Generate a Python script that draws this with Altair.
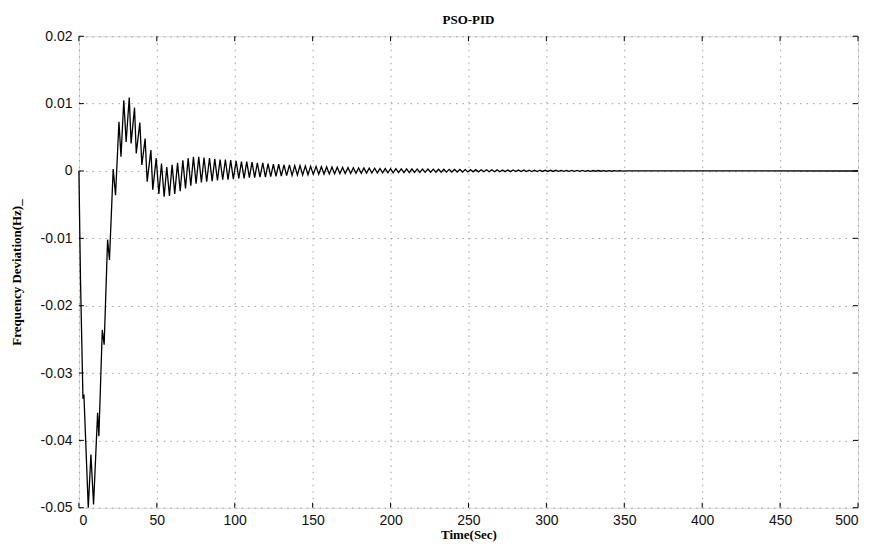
import altair as alt
import pandas as pd

# ---- data ----
early_t = [0.0, 1.0, 2.6, 3.2, 6.0, 7.7, 9.4, 12.0, 12.8, 15.0, 16.2, 18.4, 19.6,
           22.0, 23.5, 25.7, 27.0, 28.8, 30.3, 32.3, 33.5, 35.7, 36.8, 39.1, 40.4,
           42.5, 43.8, 46.2, 47.4, 49.6, 51.3, 53.0, 54.7]
early_v = [0.0, -0.016, -0.0338, -0.0332, -0.0500, -0.0421, -0.0495, -0.0359, -0.0394,
           -0.0236, -0.0258, -0.0102, -0.0132, 0.0003, -0.0036, 0.0073, 0.0021, 0.0105,
           0.0043, 0.0109, 0.0041, 0.0094, 0.0026, 0.0072, 0.0009, 0.0048, -0.0016,
           0.0031, -0.0028, 0.0019, -0.0034, 0.0011, -0.0038]

peak_t = [56.4, 59.8, 63.3, 66.7, 70.1, 73.5, 76.9, 80.3, 83.8, 87.2, 90.6, 94.0, 97.4,
          100.9, 104.3, 107.7, 111.1, 114.5, 118.0, 121.4, 124.8, 128.2, 131.6, 135.1,
          138.5, 141.9, 145.3, 148.7, 152.2, 155.6, 159.0, 162.4, 165.8, 169.2, 172.7,
          176.1, 179.5, 182.9, 186.3, 189.8, 193.2, 196.6, 200.0, 203.4, 206.9, 210.3,
          213.7, 217.1, 220.5, 224.0, 227.4, 230.8, 234.2, 237.6, 241.1, 244.5, 247.9,
          251.3, 254.7, 258.2, 261.6, 265.0, 268.4, 271.8, 275.3, 278.7, 282.1, 285.5,
          288.9, 292.4, 295.8, 299.2, 302.6, 306.0, 309.5, 312.9, 316.3, 319.7, 323.1,
          326.6, 330.0, 333.4, 336.8, 340.2, 343.7, 347.1]
peak_v = [0.0006, 0.0009, 0.0012, 0.0016, 0.0019, 0.0021, 0.0021, 0.0020, 0.0019, 0.0018,
          0.0017, 0.0017, 0.0016, 0.0015, 0.0014, 0.0014, 0.0013, 0.0012, 0.0012, 0.0011,
          0.0010, 0.0010, 0.0009, 0.0009, 0.0008, 0.0008, 0.00075, 0.0007, 0.00068,
          0.00064, 0.0006, 0.00058, 0.00055, 0.00052, 0.0005, 0.00048, 0.00046, 0.00044,
          0.00042, 0.0004, 0.00038, 0.00036, 0.00035, 0.00034, 0.00033, 0.00032, 0.00031,
          0.0003, 0.00029, 0.00028, 0.00027, 0.00026, 0.00025, 0.00024, 0.00023, 0.00022,
          0.00021, 0.0002, 0.00019, 0.00018, 0.00017, 0.00017, 0.00016, 0.00015, 0.00014,
          0.00014, 0.00013, 0.00013, 0.00012, 0.00012, 0.00011, 0.0001, 0.0001, 0.0001,
          0.00009, 0.00009, 0.00008, 0.00008, 0.00008, 0.00007, 0.00007, 0.00007, 0.00006,
          0.00006, 0.00006, 0.00005]

trough_t = [58.1, 61.5, 65.0, 68.4, 71.8, 75.2, 78.6, 82.0, 85.5, 88.9, 92.3, 95.7, 99.1,
            102.6, 106.0, 109.4, 112.8, 116.2, 119.7, 123.1, 126.5, 129.9, 133.3, 136.8,
            140.2, 143.6, 147.0, 150.4, 153.9, 157.3, 160.7, 164.1, 167.5, 170.9, 174.4,
            177.8, 181.2, 184.6, 188.0, 191.5, 194.9, 198.3, 201.7, 205.1, 208.6, 212.0,
            215.4, 218.8, 222.2, 225.7, 229.1, 232.5, 235.9, 239.3, 242.8, 246.2, 249.6,
            253.0, 256.4, 259.9, 263.3, 266.7, 270.1, 273.5, 277.0, 280.4, 283.8, 287.2,
            290.6, 294.1, 297.5, 300.9, 304.3, 307.7, 311.2, 314.6, 318.0, 321.4, 324.8,
            328.3, 331.7, 335.1, 338.5, 341.9, 345.4, 348.8]
trough_v = [-0.0037, -0.0034, -0.0030, -0.0026, -0.0022, -0.0019, -0.0017, -0.0016, -0.0015,
            -0.0014, -0.0013, -0.0013, -0.0012, -0.0011, -0.0011, -0.0010, -0.0010, -0.0009,
            -0.0009, -0.00085, -0.0008, -0.00075, -0.0007, -0.00065, -0.0006, -0.00058,
            -0.00055, -0.0005, -0.00048, -0.00046, -0.00044, -0.00042, -0.0004, -0.00038,
            -0.00036, -0.00035, -0.00034, -0.00032, -0.0003, -0.00029, -0.00028, -0.00027,
            -0.00026, -0.00025, -0.00024, -0.00023, -0.00022, -0.00021, -0.0002, -0.00019,
            -0.00018, -0.00018, -0.00017, -0.00016, -0.00015, -0.00015, -0.00014, -0.00013,
            -0.00013, -0.00012, -0.00012, -0.00011, -0.00011, -0.0001, -0.0001, -0.00009,
            -0.00009, -0.00009, -0.00008, -0.00008, -0.00007, -0.00007, -0.00007, -0.00006,
            -0.00006, -0.00006, -0.00005, -0.00005, -0.00005, -0.00005, -0.00004, -0.00004,
            -0.00004, -0.00004, -0.00003, -0.00003]

tail_t = [352.0, 500.0]
tail_v = [0.00001, 0.0]

x_ticks = [0, 50, 100, 150, 200, 250, 300, 350, 400, 450, 500]
y_ticks = [-0.05, -0.04, -0.03, -0.02, -0.01, 0.0, 0.01, 0.02]

df = pd.DataFrame({
    "t": early_t + peak_t + trough_t + tail_t,
    "v": early_v + peak_v + trough_v + tail_v,
}).sort_values("t").reset_index(drop=True)
df["i"] = range(len(df))

xt_df = pd.DataFrame({"xt": x_ticks})
yt_df = pd.DataFrame({"yt": y_ticks})

W, H = 780, 472
SANS = "Liberation Sans"
SERIF = "Liberation Serif"

xscale = alt.Scale(domain=[0, 500], nice=False, zero=False)
yscale = alt.Scale(domain=[-0.05, 0.02], nice=False, zero=False)

x_axis = alt.Axis(
    values=x_ticks, title="Time(Sec)", grid=True, gridColor="#a0a0a0",
    gridDash=[1.5, 5], gridWidth=1, domain=False, ticks=False,
    labelFont=SANS, labelFontSize=14, labelColor="#111", labelPadding=6,
    titleFont=SERIF, titleFontSize=13, titleFontWeight="bold", titleColor="#000",
    titlePadding=1,
)
y_axis = alt.Axis(
    values=y_ticks, title="Frequency Deviation(Hz)_", grid=True, gridColor="#a0a0a0",
    gridDash=[1.5, 5], gridWidth=1, domain=False, ticks=False,
    labelFont=SANS, labelFontSize=14, labelColor="#111", labelPadding=7,
    labelExpr="datum.value == 0 ? '0' : toString(round(datum.value*100)/100)",
    titleFont=SERIF, titleFontSize=13, titleFontWeight="bold", titleColor="#000",
    titlePadding=17,
)

line = alt.Chart(df).mark_line(color="#000", strokeWidth=1.3).encode(
    x=alt.X("t:Q", scale=xscale, axis=x_axis),
    y=alt.Y("v:Q", scale=yscale, axis=y_axis),
    order="i:Q",
)

TL = 5
xt_bot = alt.Chart(xt_df).mark_rule(color="#000", strokeWidth=1).encode(
    x=alt.X("xt:Q", scale=xscale), y=alt.value(H), y2=alt.value(H - TL))
xt_top = alt.Chart(xt_df).mark_rule(color="#000", strokeWidth=1).encode(
    x=alt.X("xt:Q", scale=xscale), y=alt.value(0), y2=alt.value(TL))
yt_left = alt.Chart(yt_df).mark_rule(color="#000", strokeWidth=1).encode(
    y=alt.Y("yt:Q", scale=yscale), x=alt.value(0), x2=alt.value(TL))
yt_right = alt.Chart(yt_df).mark_rule(color="#000", strokeWidth=1).encode(
    y=alt.Y("yt:Q", scale=yscale), x=alt.value(W), x2=alt.value(W - TL))

chart = alt.layer(line, xt_bot, xt_top, yt_left, yt_right).properties(
    width=W, height=H,
    title=alt.TitleParams("PSO-PID", font=SERIF, fontSize=13, fontWeight="bold",
                          color="#000", offset=2, anchor="middle"),
    autosize=alt.AutoSizeParams(type="none"),
    padding={"left": 71, "top": 28, "right": 6, "bottom": 37},
).configure_view(stroke="#000", strokeWidth=1.2).configure(background="white")

chart.save("out.html", embed_options={"renderer": "svg", "actions": False})
